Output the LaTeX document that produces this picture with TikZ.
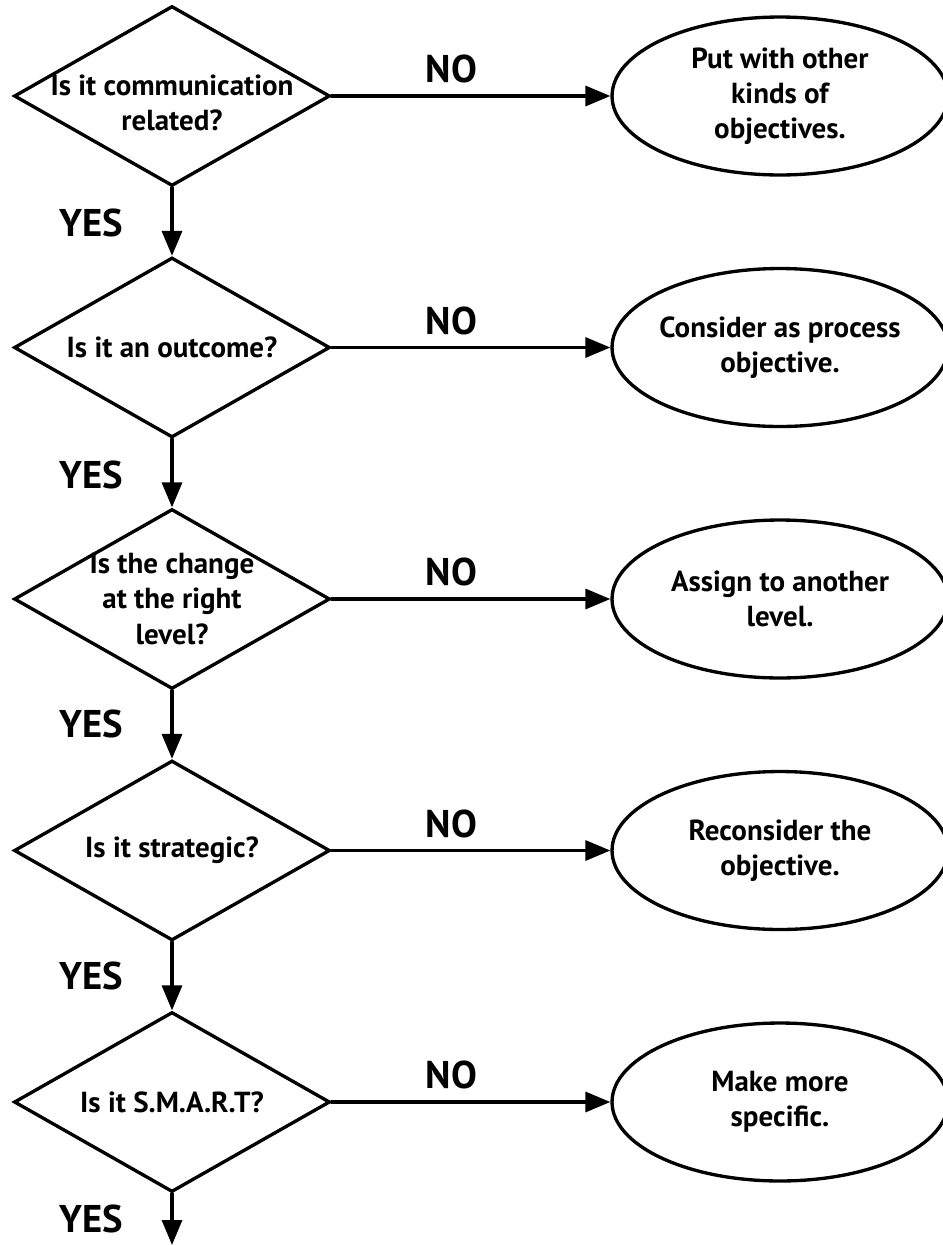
\documentclass[tikz,border=0pt]{standalone}
\usepackage{fontspec}
\setmainfont{PT Sans}
\usepackage{tikz}
\usetikzlibrary{arrows.meta}
\usetikzlibrary{shapes,positioning}
\tikzset{>={Triangle[length=0.5cm,width=0.4cm]},
  quest/.style={draw,diamond,line width=1.9pt,minimum width=6.32cm,
    minimum height=3.6cm,inner sep=0pt},
  answer/.style={draw,ellipse,line width=1.9pt,minimum width=6.72cm,
    minimum height=3.16cm,inner sep=0pt},
  qtext/.style={align=center,inner sep=0pt,
    font=\fontsize{16.5}{20}\selectfont\bfseries},
  yeslbl/.style={inner sep=0pt,font=\fontsize{22}{24}\selectfont\bfseries},
  flow/.style={line width=1.9pt,->}}

\begin{document}
\begin{tikzpicture}[x=0.02cm,y=-0.02cm,line cap=round]

  \useasboundingbox (0,0) rectangle (943,1245);

  % questions
  \node [quest] (q1) at (172,96) {};
  \node [quest] (q2) at (172,347.5) {};
  \node [quest] (q3) at (172,599) {};
  \node [quest] (q4) at (172,850.5) {};
  \node [quest] (q5) at (172,1102) {};

  \node [qtext] (q1t) at ([yshift=-0.14cm]q1) {Is it communication\\related?};
  \node [qtext] (q2t) at (q2) {Is it an outcome?};
  \node [qtext] (q3t) at (q3) {Is the change\\at the right\\level?};
  \node [qtext] (q4t) at (q4) {Is it strategic?};
  \node [qtext] (q5t) at (q5) {Is it S.M.A.R.T?};

  % answers
  \node [answer] (a1) at (780,96) {};
  \node [answer] (a2) at (780,347.5) {};
  \node [answer] (a3) at (780,599) {};
  \node [answer] (a4) at (780,850.5) {};
  \node [answer] (a5) at (780,1102) {};

  \node [qtext] (a1t) at (a1) {Put with other\\kinds of\\objectives.};
  \node [qtext] (a2t) at (a2) {Consider as process\\objective.};
  \node [qtext] (a3t) at (a3) {Assign to another\\level.};
  \node [qtext] (a4t) at (a4) {Reconsider the\\objective.};
  \node [qtext] (a5t) at (a5) {Make more\\specific.};

  \coordinate (end) at (172,1245);

  % NO arrows
  \draw [flow] (q1.east) -- node [yeslbl,pos=0.43,above=0.22cm] (n1) {NO} (a1.west);
  \draw [flow] (q2.east) -- node [yeslbl,pos=0.43,above=0.22cm] (n2) {NO} (a2.west);
  \draw [flow] (q3.east) -- node [yeslbl,pos=0.43,above=0.22cm] (n3) {NO} (a3.west);
  \draw [flow] (q4.east) -- node [yeslbl,pos=0.43,above=0.22cm] (n4) {NO} (a4.west);
  \draw [flow] (q5.east) -- node [yeslbl,pos=0.43,above=0.22cm] (n5) {NO} (a5.west);

  % YES arrows
  \draw [flow] (q1.south) -- (q2.north);
  \draw [flow] (q2.south) -- (q3.north);
  \draw [flow] (q3.south) -- (q4.north);
  \draw [flow] (q4.south) -- (q5.north);
  \draw [flow] (q5.south) -- (end);

  \node [yeslbl] (y1) at (91,223) {YES};
  \node [yeslbl] (y2) at (91,475) {YES};
  \node [yeslbl] (y3) at (91,724) {YES};
  \node [yeslbl] (y4) at (91,976) {YES};
  \node [yeslbl] (y5) at (91,1219) {YES};

\end{tikzpicture}
\end{document}
